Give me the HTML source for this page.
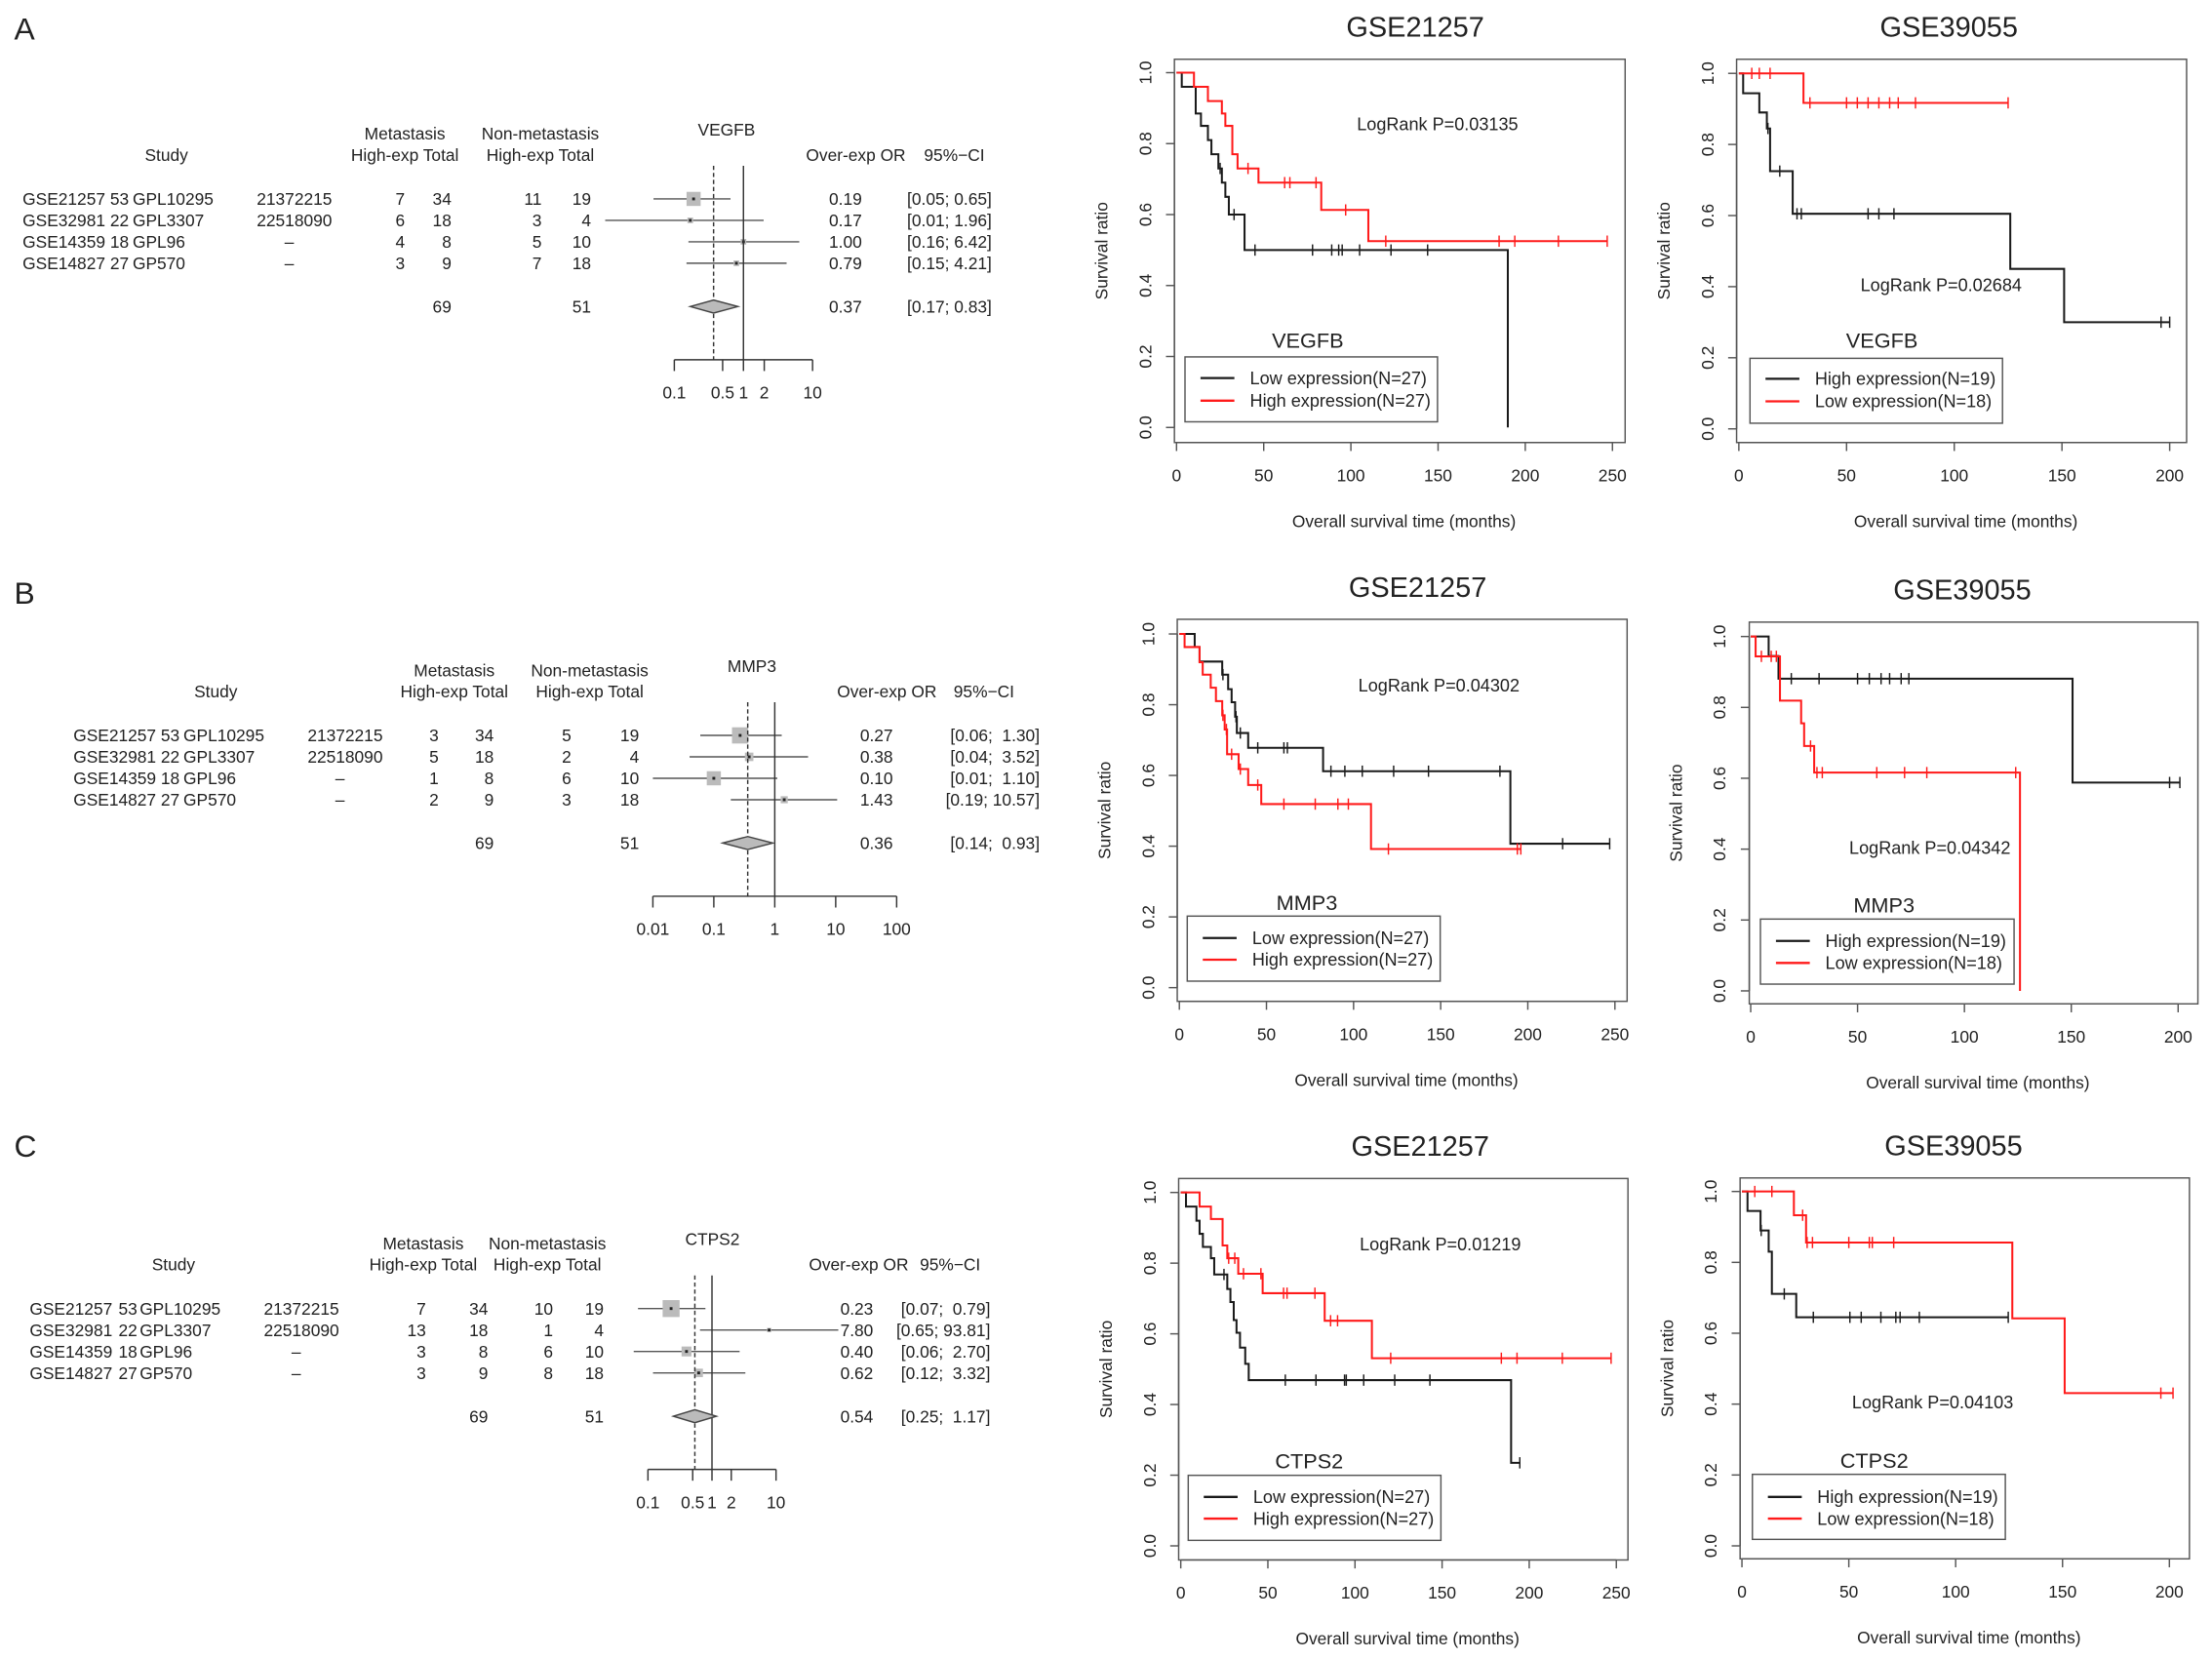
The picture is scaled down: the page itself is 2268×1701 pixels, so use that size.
<!DOCTYPE html>
<html><head><meta charset="utf-8"><style>
html,body{margin:0;padding:0;background:#fff;}
svg{display:block;}
text{font-family:"Liberation Sans",Arial,sans-serif;fill:#222;white-space:pre;}
</style></head><body>
<svg id="fig" width="2268" height="1701" viewBox="0 0 1568 1176" preserveAspectRatio="none"></svg>
<script>
// ---------- Forest plot data ----------
const studyIds = ['GSE21257','GSE32981','GSE14359','GSE14827'];
const studyN = [53,22,18,27];
const platforms = ['GPL10295','GPL3307','GPL96','GP570'];
const pmids = ['21372215','22518090','-','-'];
const metTotal = [34,18,8,9];
const nonTotal = [19,4,10,18];
const aMetHigh = [7,6,4,3];
const aNonHigh = [11,3,5,7];
const aOR = [0.19,0.17,1.00,0.79];
const aLo = [0.05,0.01,0.16,0.15];
const aHi = [0.65,1.96,6.42,4.21];
const aSum = [0.37,0.17,0.83];
const aWeight = [10,4,4,4];
const aTicks = [0.1,0.5,1,2,10];
const bMetHigh = [3,5,1,2];
const bNonHigh = [5,2,6,3];
const bOR = [0.27,0.38,0.10,1.43];
const bLo = [0.06,0.04,0.01,0.19];
const bHi = [1.30,3.52,1.10,10.57];
const bSum = [0.36,0.14,0.93];
const bWeight = [11.5,6,10,5];
const bTicks = [0.01,0.1,1,10,100];
const cMetHigh = [7,13,3,3];
const cNonHigh = [10,1,6,8];
const cOR = [0.23,7.80,0.40,0.62];
const cLo = [0.07,0.65,0.06,0.12];
const cHi = [0.79,93.81,2.70,3.32];
const cSum = [0.54,0.25,1.17];
const cWeight = [12,3,7,6];
const cTicks = [0.1,0.5,1,2,10];

// ---------- Kaplan-Meier data ----------
const a1LowT=[3,11,14,18,20,24,26,28,30,39,190];
const a1LowS=[0.96,0.885,0.85,0.81,0.77,0.73,0.69,0.65,0.60,0.50,0];
const a1LowEnd=190;
const a1LowC=[25,33,45,78,89,93,95,105,123,144];
const a1HighT=[10,18,26,28,32,35,47,83,110];
const a1HighS=[0.96,0.92,0.885,0.85,0.77,0.73,0.69,0.613,0.525];
const a1HighEnd=247;
const a1HighC=[41,62,65,80,97,120,185,194,219,247];
const a2HighT=[2,9.5,13,14.5,25,126,151];
const a2HighS=[0.944,0.89,0.845,0.725,0.605,0.45,0.30];
const a2HighEnd=200;
const a2HighC=[13.5,19,27,29,60,65,72,196,200];
const a2LowT=[30];
const a2LowS=[0.917];
const a2LowEnd=125;
const a2LowC=[6,9.5,14.5,33,50,55,60,65,70,74,82,125];
const b1LowT=[8.8,11.6,24.6,28,30,32,33,39.5,82.5,190];
const b1LowS=[0.963,0.922,0.885,0.844,0.807,0.766,0.72,0.678,0.612,0.407];
const b1LowEnd=247;
const b1LowC=[25,32.5,35,45,60,62,87,95,105,123,143,184,220,247];
const b1HighT=[3,11.6,13.4,18,21,24.6,26,27.4,34,39.5,47,110];
const b1HighS=[0.963,0.92,0.885,0.848,0.81,0.77,0.73,0.66,0.618,0.573,0.519,0.392];
const b1HighEnd=196;
const b1HighC=[25,27,30,35,45,60,78,91,97,120,194,196];
const b2HighT=[8.4,13,150.6];
const b2HighS=[0.945,0.881,0.588];
const b2HighEnd=201;
const b2HighC=[19,32,50,55.5,61,65,70.4,74,196,200.8];
const b2LowT=[2.3,13.7,23.6,25,29.7,126];
const b2LowS=[0.944,0.819,0.755,0.691,0.616,0];
const b2LowEnd=126;
const b2LowC=[5,9.6,12,28,31,33.5,59,72,82.4,124];
const c1LowT=[3,9,10.8,12.7,17.3,19.2,26.7,28.5,30.4,32,34,37,39,189.6];
const c1LowS=[0.96,0.92,0.883,0.846,0.814,0.768,0.727,0.69,0.639,0.603,0.561,0.515,0.469,0.235];
const c1LowEnd=194.6;
const c1LowC=[24.8,60,77.6,94,95,105,122.8,143,194.6];
const c1HighT=[10.8,17.3,24,26.7,33,47,82.6,109.7];
const c1HighS=[0.96,0.925,0.85,0.814,0.77,0.715,0.637,0.531];
const c1HighEnd=247;
const c1HighC=[27.5,31,36,46,59,61,77,86,90,120.5,184,193,219,247];
const c2HighT=[2.6,8.7,12.5,14,25.4];
const c2HighS=[0.945,0.89,0.83,0.711,0.645];
const c2HighEnd=124.6;
const c2HighC=[9,19.8,33.4,50.5,55.8,65,72,74,83,124.6];
const c2LowT=[24.3,30,126.5,151];
const c2LowS=[0.933,0.856,0.642,0.431];
const c2LowEnd=201.7;
const c2LowC=[6,14,28.4,30.5,33,50,59.6,61,71,196,201.7];
const kmXTicks1=[0,50,100,150,200,250];
const kmXTicks2=[0,50,100,150,200];
const kmYTicks=[0,0.2,0.4,0.6,0.8,1.0];

const svg=document.getElementById('fig');
const NS=svg.namespaceURI;
function mk(tag,attrs,parent,name){
  const el=document.createElementNS(NS,tag);
  for(const k in attrs) el.setAttribute(k,attrs[k]);
  
  
  parent.appendChild(el);
  return el;
}
function txt(parent,x,y,s,size,anchor,name,extra){
  const a={x:x,y:y,'font-size':size,'text-anchor':anchor||'start'};
  if(extra) for(const k in extra) a[k]=extra[k];
  const t=mk('text',a,parent,name);
  t.textContent=s;
  return t;
}

// panel letters
txt(svg,10,28,'A',22,'start','panel-label-a');
txt(svg,10,428,'B',22,'start','panel-label-b');
txt(svg,10,820,'C',22,'start','panel-label-c');

function drawForest(g,cfg,gene,metHigh,nonHigh,OR,lo,hi,sum,weight,ticks){
  const grp=mk('g',{},svg,'forest-plot-'+g);
  const X=v=>cfg.one+cfg.dec*Math.log10(v);
  const r0=cfg.row0, dy=15.2;
  const fs=12;
  // headers
  txt(grp,cfg.studyH,r0-27,'Study',fs,'middle','study-header');
  txt(grp,cfg.metC,r0-42,'Metastasis',fs,'middle','metastasis-header');
  txt(grp,cfg.metC,r0-27,'High-exp Total',fs,'middle','metastasis-subheader');
  txt(grp,cfg.nonC,r0-42,'Non-metastasis',fs,'middle','non-metastasis-header');
  txt(grp,cfg.nonC,r0-27,'High-exp Total',fs,'middle','non-metastasis-subheader');
  txt(grp,cfg.geneX,r0-45,gene,fs,'middle','forest-gene-title');
  txt(grp,cfg.orH,r0-27,'Over-exp OR',fs,'end','or-header');
  txt(grp,cfg.ciH,r0-27,'95%\u2212CI',fs,'start','ci-header');
  const pad=hi.some(v=>v>=10);
  for(let i=0;i<4;i++){
    const y=r0+dy*i, yb=y+4.3;
    txt(grp,cfg.name,yb,studyIds[i],fs,'start','study-id');
    txt(grp,cfg.n,yb,String(studyN[i]),fs,'start','study-n');
    txt(grp,cfg.gpl,yb,platforms[i],fs,'start','study-platform');
    if(pmids[i]==='-') txt(grp,cfg.pmid+23,yb,'\u2013',fs,'middle','study-pmid');
    else txt(grp,cfg.pmid,yb,pmids[i],fs,'start','study-pmid');
    txt(grp,cfg.metH,yb,String(metHigh[i]),fs,'end','met-high-count');
    txt(grp,cfg.metT,yb,String(metTotal[i]),fs,'end','met-total-count');
    txt(grp,cfg.nonH,yb,String(nonHigh[i]),fs,'end','non-high-count');
    txt(grp,cfg.nonT,yb,String(nonTotal[i]),fs,'end','non-total-count');
    txt(grp,cfg.orE,yb,OR[i].toFixed(2),fs,'end','or-value');
    let hs=hi[i].toFixed(2); if(pad) hs=hs.padStart(5,' ');
    txt(grp,cfg.ciE,yb,'['+lo[i].toFixed(2)+'; '+hs+']',fs,'end','ci-value');
    mk('line',{x1:X(lo[i]),x2:X(hi[i]),y1:y,y2:y,stroke:'#555','stroke-width':1},grp,'ci-line');
    const w=weight[i];
    mk('rect',{x:X(OR[i])-w/2,y:y-w/2,width:w,height:w,fill:'#bbb'},grp,'study-square');
    mk('rect',{x:X(OR[i])-1,y:y-1,width:2,height:2,fill:'#222'},grp,'study-point');
  }
  const ys=r0+dy*4+15.5, yb=ys+4.3;
  txt(grp,cfg.metT,yb,String(metTotal.reduce((a,b)=>a+b,0)),fs,'end','met-total-sum');
  txt(grp,cfg.nonT,yb,String(nonTotal.reduce((a,b)=>a+b,0)),fs,'end','non-total-sum');
  txt(grp,cfg.orE,yb,sum[0].toFixed(2),fs,'end','summary-or');
  let hs=sum[2].toFixed(2); if(pad) hs=hs.padStart(5,' ');
  txt(grp,cfg.ciE,yb,'['+sum[1].toFixed(2)+'; '+hs+']',fs,'end','summary-ci');
  const top=r0-23.5, base=r0+114;
  mk('line',{x1:X(1),x2:X(1),y1:top,y2:base,stroke:'#333','stroke-width':1},grp,'null-line');
  mk('line',{x1:X(sum[0]),x2:X(sum[0]),y1:top,y2:base,stroke:'#333','stroke-width':1,'stroke-dasharray':'3,2'},grp,'summary-dashed-line');
  mk('polygon',{points:[[X(sum[1]),ys],[X(sum[0]),ys-4.6],[X(sum[2]),ys],[X(sum[0]),ys+4.6]].map(p=>p.join(',')).join(' '),fill:'#bbb',stroke:'#444','stroke-width':1},grp,'summary-diamond');
  mk('line',{x1:X(ticks[0]),x2:X(ticks[ticks.length-1]),y1:base,y2:base,stroke:'#333','stroke-width':1},grp,'forest-x-axis');
  ticks.forEach(t=>{
    mk('line',{x1:X(t),x2:X(t),y1:base,y2:base+8,stroke:'#333','stroke-width':1},grp,'forest-x-tick');
    txt(grp,X(t),base+27.5,String(t),fs,'middle','forest-x-tick-label');
  });
}
drawForest('a',{one:527,dec:49,row0:141,name:16,n:78,gpl:94,pmid:182,metH:287,metT:320,nonH:384,nonT:419,orE:611,ciE:703,studyH:118,metC:287,nonC:383,geneX:515,orH:642,ciH:655},'VEGFB',aMetHigh,aNonHigh,aOR,aLo,aHi,aSum,aWeight,aTicks);
drawForest('b',{one:549.2,dec:43.2,row0:521.3,name:52,n:114,gpl:130,pmid:218,metH:311,metT:350,nonH:405,nonT:453,orE:633,ciE:737,studyH:153,metC:322,nonC:418,geneX:533,orH:664,ciH:676},'MMP3',bMetHigh,bNonHigh,bOR,bLo,bHi,bSum,bWeight,bTicks);
drawForest('c',{one:504.7,dec:45.4,row0:927.6,name:21,n:84,gpl:99,pmid:187,metH:302,metT:346,nonH:392,nonT:428,orE:619,ciE:702,studyH:123,metC:300,nonC:388,geneX:505,orH:644,ciH:652},'CTPS2',cMetHigh,cNonHigh,cOR,cLo,cHi,cSum,cWeight,cTicks);

function stepVal(T,S,t){let v=1;for(let i=0;i<T.length;i++){if(T[i]<=t)v=S[i];}return v;}
function drawKM(id,cfg,title,p,gene,leg,xticks,curves){
  const grp=mk('g',{},svg,'km-plot-'+id);
  const X=t=>cfg.t0+cfg.ppm*t;
  const Y=s=>cfg.y0+(cfg.y1-cfg.y0)*s;
  const cx=(cfg.bx+cfg.bxr)/2;
  txt(grp,cx+cfg.tdx,cfg.by-16,title,20,'middle','km-title');
  mk('rect',{x:cfg.bx,y:cfg.by,width:cfg.bxr-cfg.bx,height:cfg.byb-cfg.by,fill:'none',stroke:'#555','stroke-width':1},grp,'km-plot-frame');
  mk('line',{x1:X(xticks[0]),x2:X(xticks[xticks.length-1]),y1:cfg.byb,y2:cfg.byb,stroke:'#555','stroke-width':1},grp,'km-x-axis');
  xticks.forEach(t=>{
    mk('line',{x1:X(t),x2:X(t),y1:cfg.byb,y2:cfg.byb+6,stroke:'#555','stroke-width':1},grp,'km-x-tick');
    txt(grp,X(t),cfg.byb+27.5,String(t),12,'middle','km-x-tick-label');
  });
  txt(grp,cx+3,cfg.byb+60,'Overall survival time (months)',12,'middle','km-x-axis-title');
  mk('line',{x1:cfg.bx,x2:cfg.bx,y1:Y(0),y2:Y(1),stroke:'#555','stroke-width':1},grp,'km-y-axis');
  kmYTicks.forEach(s=>{
    mk('line',{x1:cfg.bx-6,x2:cfg.bx,y1:Y(s),y2:Y(s),stroke:'#555','stroke-width':1},grp,'km-y-tick');
    const lx=cfg.t0-22;
    txt(grp,lx,Y(s),s.toFixed(1),12,'middle','km-y-tick-label',{'dominant-baseline':'central',transform:'rotate(-90 '+lx+' '+Y(s)+')'});
  });
  const yx=cfg.t0-53, yy=(cfg.by+cfg.byb)/2;
  txt(grp,yx,yy,'Survival ratio',12,'middle','km-y-axis-title',{'dominant-baseline':'central',transform:'rotate(-90 '+yx+' '+yy+')'});
  curves.forEach(c=>{
    let d='M'+X(0)+','+Y(1);
    for(let i=0;i<c.T.length;i++){
      d+=' H'+X(c.T[i])+' V'+Y(c.S[i]);
    }
    d+=' H'+X(c.end);
    mk('path',{d:d,fill:'none',stroke:c.color,'stroke-width':1.4},grp,c.name+'-curve');
    c.C.forEach(t=>{
      const v=stepVal(c.T,c.S,t);
      mk('line',{x1:X(t),x2:X(t),y1:Y(v)-4,y2:Y(v)+4,stroke:c.color,'stroke-width':1},grp,c.name+'-censor-mark');
    });
  });
  txt(grp,p.x,p.y+4.3,p.s,12.5,'middle','logrank-p-value');
  txt(grp,leg.gx,leg.gy+5.5,gene,15,'middle','legend-gene-title');
  mk('rect',{x:leg.x,y:leg.y,width:leg.w,height:leg.h,fill:'#fff',stroke:'#555','stroke-width':1},grp,'legend-box');
  leg.items.forEach((it,i)=>{
    const yy2=leg.r[i];
    mk('line',{x1:leg.x+11,x2:leg.x+35,y1:yy2,y2:yy2,stroke:it.color,'stroke-width':1.6},grp,'legend-swatch');
    txt(grp,leg.x+46,yy2+4.3,it.label,12.5,'start','legend-entry');
  });
}
const BLK='#1a1a1a', RED='#ff1a1a';
const L27a=[{color:BLK,label:'Low expression(N=27)'},{color:RED,label:'High expression(N=27)'}];
const L19a=[{color:BLK,label:'High expression(N=19)'},{color:RED,label:'Low expression(N=18)'}];
drawKM('a1',{t0:834,ppm:1.236,y1:51.5,y0:303,bx:832.5,bxr:1152,by:42,byb:313.7,tdx:11},'GSE21257',{x:1019,y:88,s:'LogRank P=0.03135'},'VEGFB',
  {gx:927,gy:241,x:840,y:253,w:179,h:46,r:[268,284],items:L27a},kmXTicks1,
  [{name:'low-expression',color:BLK,T:a1LowT,S:a1LowS,end:a1LowEnd,C:a1LowC},{name:'high-expression',color:RED,T:a1HighT,S:a1HighS,end:a1HighEnd,C:a1HighC}]);
drawKM('a2',{t0:1232.6,ppm:1.527,y1:52,y0:304,bx:1231,bxr:1550,by:42,byb:313.7,tdx:-9},'GSE39055',{x:1376,y:202,s:'LogRank P=0.02684'},'VEGFB',
  {gx:1334,gy:241,x:1240.5,y:254,w:179,h:46,r:[268.5,284.5],items:L19a},kmXTicks2,
  [{name:'high-expression',color:BLK,T:a2HighT,S:a2HighS,end:a2HighEnd,C:a2HighC},{name:'low-expression',color:RED,T:a2LowT,S:a2LowS,end:a2LowEnd,C:a2LowC}]);
drawKM('b1',{t0:836,ppm:1.235,y1:449.4,y0:700.1,bx:834.5,bxr:1153.4,by:439,byb:709.8,tdx:11},'GSE21257',{x:1020,y:486,s:'LogRank P=0.04302'},'MMP3',
  {gx:926.4,gy:639.6,x:841.6,y:649.4,w:179.3,h:46.1,r:[664.9,680.3],items:L27a},kmXTicks1,
  [{name:'low-expression',color:BLK,T:b1LowT,S:b1LowS,end:b1LowEnd,C:b1LowC},{name:'high-expression',color:RED,T:b1HighT,S:b1HighS,end:b1HighEnd,C:b1HighC}]);
drawKM('b2',{t0:1241,ppm:1.515,y1:451.2,y0:702.4,bx:1240,bxr:1558,by:441,byb:711.6,tdx:-8},'GSE39055',{x:1368,y:601,s:'LogRank P=0.04342'},'MMP3',
  {gx:1335.5,gy:641.4,x:1247.9,y:651.5,w:179.8,h:46.1,r:[667,682.6],items:L19a},kmXTicks2,
  [{name:'high-expression',color:BLK,T:b2HighT,S:b2HighS,end:b2HighEnd,C:b2HighC},{name:'low-expression',color:RED,T:b2LowT,S:b2LowS,end:b2LowEnd,C:b2LowC}]);
drawKM('c1',{t0:837,ppm:1.235,y1:845.3,y0:1095.8,bx:835.5,bxr:1154,by:835.4,byb:1105.8,tdx:12},'GSE21257',{x:1021,y:882,s:'LogRank P=0.01219'},'CTPS2',
  {gx:928,gy:1035.4,x:842.3,y:1045.8,w:179.1,h:46.1,r:[1061.1,1076.5],items:L27a},kmXTicks1,
  [{name:'low-expression',color:BLK,T:c1LowT,S:c1LowS,end:c1LowEnd,C:c1LowC},{name:'high-expression',color:RED,T:c1HighT,S:c1HighS,end:c1HighEnd,C:c1HighC}]);
drawKM('c2',{t0:1234.8,ppm:1.515,y1:844.6,y0:1095.8,bx:1233.5,bxr:1552,by:835,byb:1105,tdx:-8},'GSE39055',{x:1370,y:994,s:'LogRank P=0.04103'},'CTPS2',
  {gx:1328.6,gy:1035.1,x:1242.2,y:1045.1,w:179.3,h:46.1,r:[1061.1,1076.5],items:L19a},kmXTicks2,
  [{name:'high-expression',color:BLK,T:c2HighT,S:c2HighS,end:c2HighEnd,C:c2HighC},{name:'low-expression',color:RED,T:c2LowT,S:c2LowS,end:c2LowEnd,C:c2LowC}]);
</script>
</body></html>
